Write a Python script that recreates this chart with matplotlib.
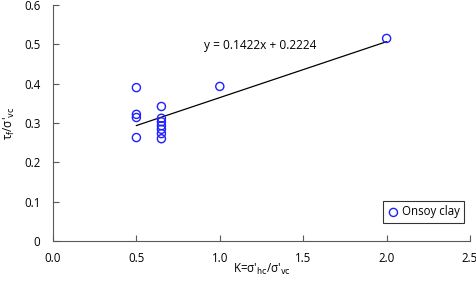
import matplotlib
matplotlib.use("Agg")
import matplotlib.pyplot as plt
import numpy as np

plt.rcParams['font.family'] = ['Open Sans', 'DejaVu Sans']

k_vals = [0.5, 0.5, 0.5, 0.5, 0.65, 0.65, 0.65, 0.65, 0.65, 0.65, 0.65, 1.0, 2.0]
tau_vals = [0.39, 0.322, 0.314, 0.263, 0.342, 0.312, 0.303, 0.293, 0.284, 0.273, 0.26, 0.393, 0.515]
slope, intercept = 0.1422, 0.2224
fit_x = [0.5, 2.0]

fig = plt.figure(figsize=(4.77, 2.87), dpi=100)
ax = fig.add_axes([53/477, 1-241/287, (470-53)/477, (241-5)/287])

ax.scatter(k_vals, tau_vals, s=34, facecolors='none', edgecolors='#1f1fff', linewidths=1.0,
           label='Onsoy clay', zorder=3)
fx = np.array(fit_x)
ax.plot(fx, slope*fx + intercept, color='black', lw=0.9, zorder=2)
ax.text(0.905, 0.498, 'y = 0.1422x + 0.2224', fontsize=8.6, ha='left', va='center')

ax.set_xlim(0, 2.5)
ax.set_ylim(0, 0.6)
ax.set_xticks([0, 0.5, 1.0, 1.5, 2.0, 2.5])
ax.set_xticklabels(['0.0', '0.5', '1.0', '1.5', '2.0', '2.5'])
ax.set_yticks([0, 0.1, 0.2, 0.3, 0.4, 0.5, 0.6])
ax.set_yticklabels(['0', '0.1', '0.2', '0.3', '0.4', '0.5', '0.6'])
ax.tick_params(direction='in', labelsize=8.3, color='#595959', length=4)
ax.tick_params(axis='x', pad=8)
ax.tick_params(axis='y', pad=9)
for s in ['top', 'right']:
    ax.spines[s].set_visible(False)
for s in ['left', 'bottom']:
    ax.spines[s].set_color('#595959')
ax.set_xlabel(r"K=σ'$_{\rm hc}$/σ'$_{\rm vc}$", fontsize=8.3, labelpad=-2)
ax.set_ylabel(r"τ$_{\rm f}$/σ'$_{\rm vc}$", fontsize=8.3, labelpad=5)

leg = ax.legend(loc='lower right', bbox_to_anchor=((464-53)/417, 0.076), fontsize=8.3, frameon=True,
                fancybox=False, edgecolor='black', handletextpad=0.2, borderpad=0.4,
                borderaxespad=0, handlelength=1.0, scatterpoints=1)
leg.get_frame().set_linewidth(0.8)

fig.savefig('out.png', dpi=100)
